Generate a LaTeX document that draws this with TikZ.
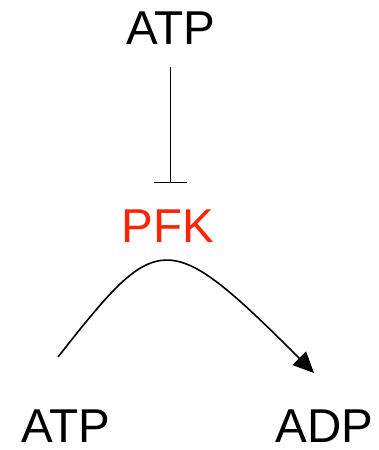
\documentclass[tikz,border=0pt]{standalone}
\usepackage{fontspec}
\setmainfont{Liberation Sans}
\usepackage{tikz}
\usetikzlibrary{arrows.meta,calc,positioning}
\usepackage{xcolor}
\definecolor{enzred}{HTML}{FF2400}
\tikzset{
  metab/.style={inner sep=0pt,anchor=base,font=\fontsize{47.5}{50}\selectfont},
  enzyme/.style={metab,text=enzred},
  inhibit/.style={-{Bar[width=33pt,line width=1.2pt]},line width=1pt},
  react/.style={-{Triangle[length=21pt,width=19pt]},line width=1.6pt}
}

\begin{document}
\begin{tikzpicture}[x=1pt,y=1pt]
  \useasboundingbox (0,0) rectangle (379,450);
  % Metabolites and enzyme
  \node[metab] (atpTop) at (170.5,405) {ATP};
  \node[enzyme] (pfk) at (168,207) {PFK};
  \node[metab] (atpL) at (65.5,7.5) {ATP};
  \node[metab] (adp) at (324.5,7.5) {ADP};
  % Allosteric inhibition
  \draw[inhibit,shorten <=22pt,shorten >=27pt] (atpTop.south) -- (atpTop.south |- pfk.north);
  % Reaction ATP -> ADP
  \coordinate (cs) at (58,93);
  \coordinate (ce) at (314,77);
  \draw[react] (cs) .. controls (158,220) and (166,225) .. (ce);
\end{tikzpicture}
\end{document}
